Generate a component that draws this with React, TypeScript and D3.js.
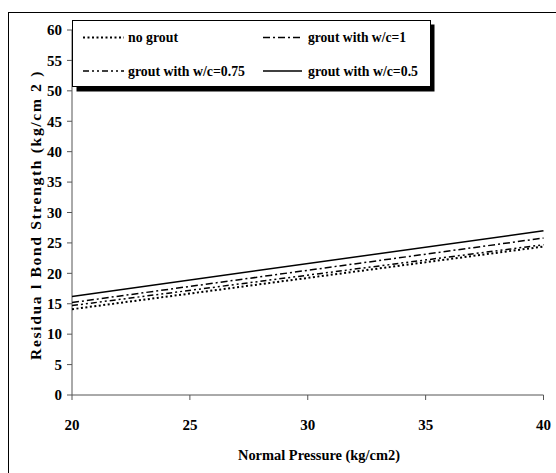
import React from "react";
import * as d3 from "d3";

const pressures = [20, 40];
const noGrout = [14.1, 24.4];
const wc075 = [14.7, 24.7];
const wc1 = [15.2, 25.8];
const wc05 = [16.2, 27.0];
const xTicks = [20, 25, 30, 35, 40];
const yTicks = [0, 5, 10, 15, 20, 25, 30, 35, 40, 45, 50, 55, 60];

const series = [
  { name: "no grout", values: noGrout, dash: "2,2.5", width: 2 },
  { name: "grout with w/c=1", values: wc1, dash: "7,3,2,3", width: 1.5 },
  { name: "grout with w/c=0.75", values: wc075, dash: "6,3,2,3,2,3", width: 1.5 },
  { name: "grout with w/c=0.5", values: wc05, dash: "", width: 1.5 },
];

export default function App() {
  const W = 556, H = 473;
  const x = d3.scaleLinear().domain([20, 40]).range([72, 543.5]);
  const y = d3.scaleLinear().domain([0, 60]).range([395, 30]);
  const line = d3.line<[number, number]>().x(d => x(d[0])).y(d => y(d[1]));
  const font = "'Liberation Serif', 'Times New Roman', Times, serif";
  const legendItems = [
    { s: series[0], lx: 83, lw: 41, tx: 128, tl: 50, ly: 37.5 },
    { s: series[1], lx: 263, lw: 39, tx: 308, tl: 98, ly: 37.5 },
    { s: series[2], lx: 83, lw: 41, tx: 128, tl: 117, ly: 71 },
    { s: series[3], lx: 263, lw: 39, tx: 308, tl: 110, ly: 71 },
  ];
  return (
    <svg width={W} height={H} style={{ position: "absolute", left: 0, top: 0 }} fontFamily={font}>
      <rect x={0} y={0} width={W} height={H} fill="#fff" />
      <rect x={8.5} y={12.5} width={W} height={H} fill="none" stroke="#000" strokeWidth={1} />
      {/* axes */}
      <line x1={x(20)} y1={y(0)} x2={x(20)} y2={y(60)} stroke="#555" strokeWidth={1} />
      <line x1={x(20)} y1={y(0)} x2={x(40)} y2={y(0)} stroke="#555" strokeWidth={1} />
      {yTicks.map(t => (
        <g key={"y" + t}>
          <line x1={x(20) - 5} x2={x(20)} y1={y(t)} y2={y(t)} stroke="#555" />
          <text x={x(20) - 10} y={y(t)} dy="0.35em" textAnchor="end" fontSize={15} fontWeight="bold">{t}</text>
        </g>
      ))}
      {xTicks.map(t => (
        <g key={"x" + t}>
          <line x1={x(t)} x2={x(t)} y1={y(0)} y2={y(0) + 5} stroke="#555" />
          <text x={x(t)} y={430} textAnchor="middle" fontSize={15} fontWeight="bold">{t}</text>
        </g>
      ))}
      <text x={319} y={460} textAnchor="middle" fontSize={14} fontWeight="bold" textLength={162} lengthAdjust="spacingAndGlyphs">Normal Pressure (kg/cm2)</text>
      <text transform="translate(41,215) rotate(-90)" textAnchor="middle" fontSize={14} fontWeight="bold" textLength={290} lengthAdjust="spacingAndGlyphs" letterSpacing={1.5}>Residua l Bond Strength (kg/cm 2 )</text>
      {/* lines */}
      {series.map(s => (
        <path key={s.name} d={line(pressures.map((p, i) => [p, s.values[i]]) as [number, number][]) || ""}
          fill="none" stroke="#000" strokeWidth={s.width} strokeDasharray={s.dash || undefined} />
      ))}
      {/* legend */}
      <rect x={76.5} y={24.5} width={358} height={67} fill="#000" />
      <rect x={72.5} y={20.5} width={358} height={66} fill="#fff" stroke="#000" strokeWidth={1} />
      {legendItems.map(({ s, lx, lw, tx, tl, ly }) => (
        <g key={"l" + s.name}>
          <line x1={lx} x2={lx + lw} y1={ly} y2={ly} stroke="#000" strokeWidth={s.width} strokeDasharray={s.dash || undefined} />
          <text x={tx} y={ly} dy="0.35em" fontSize={14} fontWeight="bold" textLength={tl} lengthAdjust="spacingAndGlyphs">{s.name}</text>
        </g>
      ))}
    </svg>
  );
}
